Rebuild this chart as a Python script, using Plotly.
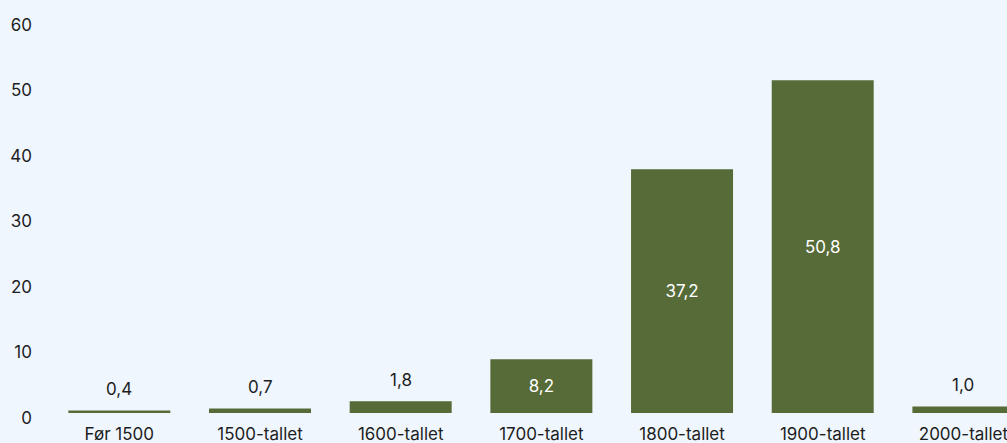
import plotly.graph_objects as go

categories = ["Før 1500", "1500-tallet", "1600-tallet", "1700-tallet", "1800-tallet", "1900-tallet", "2000-tallet"]
values = [0.4, 0.7, 1.8, 8.2, 37.2, 50.8, 1.0]
labels = ["0,4", "0,7", "1,8", "8,2", "37,2", "50,8", "1,0"]
inside = [False, False, False, True, True, True, False]
y_ticks = [0, 10, 20, 30, 40, 50, 60]

BAR = "#566b37"
BG = "#eff6fd"
TXT = "#1d1d1d"
FONT = "Inter, Roboto, sans-serif"
FS = 17

fig = go.Figure()
fig.add_trace(go.Bar(
    x=categories,
    y=values,
    marker=dict(color=BAR, line=dict(width=0)),
    text=[l if i else "" for l, i in zip(labels, inside)],
    textposition="inside",
    insidetextanchor="middle",
    textfont=dict(color="white", size=FS, family=FONT),
    hoverinfo="skip",
))

for c, v, l, i in zip(categories, values, labels, inside):
    if not i:
        fig.add_annotation(x=c, y=v, text=l, showarrow=False, yanchor="bottom",
                           yshift=9, font=dict(color=TXT, size=FS, family=FONT))

fig.update_layout(
    width=1007, height=443,
    paper_bgcolor=BG, plot_bgcolor=BG,
    margin=dict(l=48.6, r=0, t=20, b=30),
    bargap=0.275,
    showlegend=False,
    font=dict(family=FONT, color=TXT, size=FS),
    xaxis=dict(range=[-0.5, 6.31], showgrid=False, zeroline=False, showline=False,
               ticks="", ticklabelstandoff=9, tickfont=dict(size=FS, color=TXT),
               automargin=False),
    yaxis=dict(range=[0, 60], tickvals=y_ticks, showgrid=False, zeroline=False,
               showline=False, ticks="", ticklabelstandoff=16, ticklabelshift=5,
               tickfont=dict(size=FS, color=TXT), automargin=False),
)

fig.write_html("out.html", config={"displayModeBar": False},
               post_script="document.body.style.margin='0';document.body.style.background='%s';" % BG)
